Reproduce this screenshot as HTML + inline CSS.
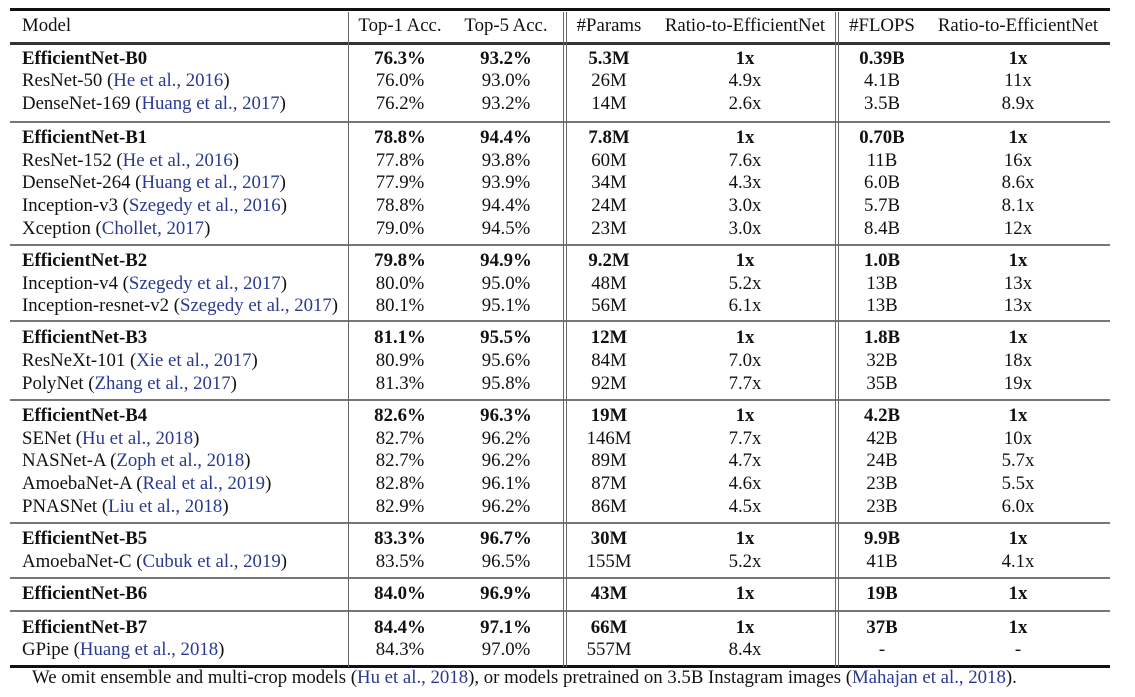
<!DOCTYPE html>
<html><head><meta charset="utf-8"><style>
body{margin:0;background:#fff;width:1135px;height:697px;position:relative;overflow:hidden;font-family:"Liberation Serif",serif;font-size:18.8px;color:#111}
.t{position:absolute;line-height:20px;white-space:nowrap}
.c{transform:translateX(-50%)}
.b{font-weight:bold}
.r{color:#2b3a8f}
.h{position:absolute;left:10px;width:1100px;background:#777;height:2px}
.v{position:absolute;top:12px;height:655px;width:1px;background:#666}
</style></head><body>
<div class="h" style="top:8px;height:3px;background:#111"></div>
<div class="h" style="top:42px;height:3px;background:#333"></div>
<div class="h" style="top:121px"></div>
<div class="h" style="top:244px"></div>
<div class="h" style="top:320px"></div>
<div class="h" style="top:399px"></div>
<div class="h" style="top:522px"></div>
<div class="h" style="top:577px"></div>
<div class="h" style="top:610px"></div>
<div class="h" style="top:665px;height:3px;background:#111"></div>
<div class="v" style="left:348px"></div>
<div class="v" style="left:563px"></div><div class="v" style="left:566px"></div>
<div class="v" style="left:835px"></div><div class="v" style="left:838px"></div>
<div id="rows"></div>
<div class="t" style="left:32px;top:668px">We omit ensemble and multi-crop models (<span class="r">Hu et al., 2018</span>), or models pretrained on 3.5B Instagram images (<span class="r">Mahajan et al., 2018</span>).</div>
<script>
const X=[400,506,609,745,882,1018];
const rows=[
[26,0,"Model","","Top-1 Acc.","Top-5 Acc.","#Params","Ratio-to-EfficientNet","#FLOPS","Ratio-to-EfficientNet"],
[59,1,"EfficientNet-B0","","76.3%","93.2%","5.3M","1x","0.39B","1x"],
[81,0,"ResNet-50 ","He et al., 2016","76.0%","93.0%","26M","4.9x","4.1B","11x"],
[104,0,"DenseNet-169 ","Huang et al., 2017","76.2%","93.2%","14M","2.6x","3.5B","8.9x"],
[138,1,"EfficientNet-B1","","78.8%","94.4%","7.8M","1x","0.70B","1x"],
[161,0,"ResNet-152 ","He et al., 2016","77.8%","93.8%","60M","7.6x","11B","16x"],
[183,0,"DenseNet-264 ","Huang et al., 2017","77.9%","93.9%","34M","4.3x","6.0B","8.6x"],
[206,0,"Inception-v3 ","Szegedy et al., 2016","78.8%","94.4%","24M","3.0x","5.7B","8.1x"],
[229,0,"Xception ","Chollet, 2017","79.0%","94.5%","23M","3.0x","8.4B","12x"],
[261,1,"EfficientNet-B2","","79.8%","94.9%","9.2M","1x","1.0B","1x"],
[284,0,"Inception-v4 ","Szegedy et al., 2017","80.0%","95.0%","48M","5.2x","13B","13x"],
[306,0,"Inception-resnet-v2 ","Szegedy et al., 2017","80.1%","95.1%","56M","6.1x","13B","13x"],
[338,1,"EfficientNet-B3","","81.1%","95.5%","12M","1x","1.8B","1x"],
[361,0,"ResNeXt-101 ","Xie et al., 2017","80.9%","95.6%","84M","7.0x","32B","18x"],
[384,0,"PolyNet ","Zhang et al., 2017","81.3%","95.8%","92M","7.7x","35B","19x"],
[416,1,"EfficientNet-B4","","82.6%","96.3%","19M","1x","4.2B","1x"],
[439,0,"SENet ","Hu et al., 2018","82.7%","96.2%","146M","7.7x","42B","10x"],
[461,0,"NASNet-A ","Zoph et al., 2018","82.7%","96.2%","89M","4.7x","24B","5.7x"],
[484,0,"AmoebaNet-A ","Real et al., 2019","82.8%","96.1%","87M","4.6x","23B","5.5x"],
[507,0,"PNASNet ","Liu et al., 2018","82.9%","96.2%","86M","4.5x","23B","6.0x"],
[539,1,"EfficientNet-B5","","83.3%","96.7%","30M","1x","9.9B","1x"],
[562,0,"AmoebaNet-C ","Cubuk et al., 2019","83.5%","96.5%","155M","5.2x","41B","4.1x"],
[594,1,"EfficientNet-B6","","84.0%","96.9%","43M","1x","19B","1x"],
[628,1,"EfficientNet-B7","","84.4%","97.1%","66M","1x","37B","1x"],
[650,0,"GPipe ","Huang et al., 2018","84.3%","97.0%","557M","8.4x","-","-"]];
let h="";
for(const r of rows){const y=r[0]-10,b=r[1]?" b":"";
h+=`<div class="t${b}" style="left:22px;top:${y}px">${r[2]}${r[3]?`(<span class="r">${r[3]}</span>)`:""}</div>`;
for(let i=0;i<6;i++)h+=`<div class="t c${b}" style="left:${X[i]}px;top:${y}px">${r[4+i]}</div>`;}
document.getElementById("rows").innerHTML=h;
</script>
</body></html>
